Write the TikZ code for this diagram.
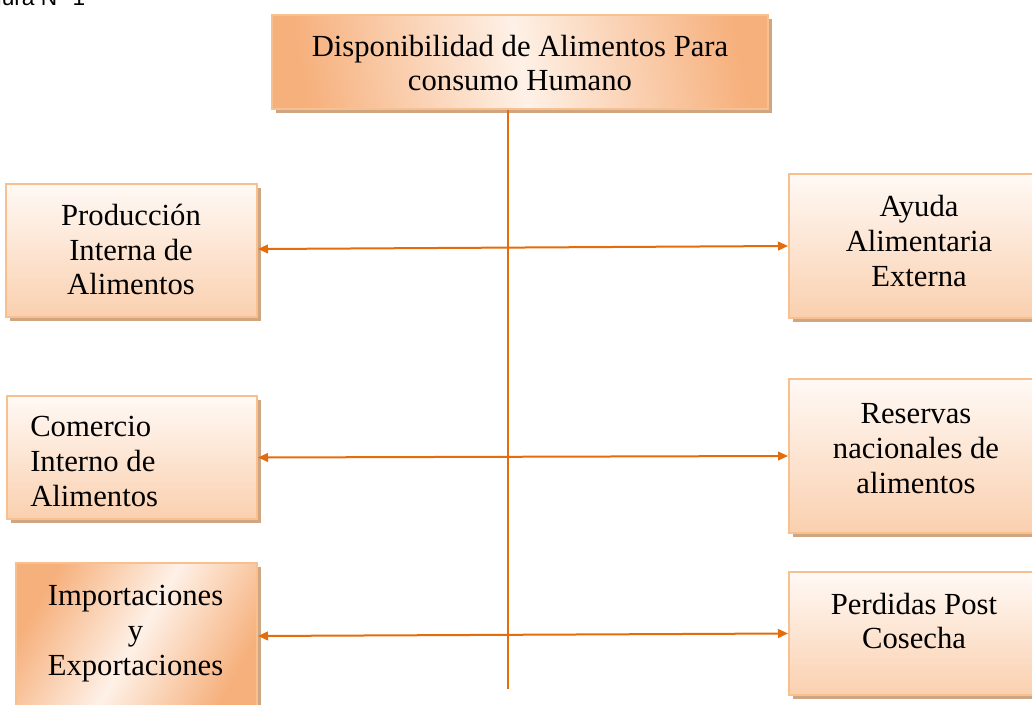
\documentclass[tikz,border=0pt]{standalone}
\usepackage{fontspec}
\setmainfont{Liberation Serif}
\newfontfamily\figfont{Liberation Sans}
\usetikzlibrary{arrows.meta,shadows}
\definecolor{linecol}{HTML}{E46C0A}
\definecolor{boxborder}{HTML}{F9C08F}
\definecolor{boxlight}{HTML}{FFF9F5}
\definecolor{boxmid}{HTML}{FAD0AF}
\definecolor{boxdark}{HTML}{F6B07C}
\definecolor{shadowcol}{HTML}{CFA582}
\tikzset{
  box/.style={draw=boxborder, line width=1.5pt, rectangle, inner sep=0pt,
    drop shadow={shadow xshift=3pt, shadow yshift=-3pt, fill=shadowcol, opacity=1}},
  vgrad/.style={top color=boxlight, bottom color=boxmid},
  dgrad/.style={left color=boxdark, right color=boxdark, middle color=boxlight!80!boxmid, shading angle=#1},
  txt/.style={font=\fontsize{23}{26}\selectfont, inner sep=0pt, align=center},
  arr/.style={draw=linecol, line width=1.5pt,
    {Triangle[length=7.5pt,width=6.5pt]}-{Triangle[length=7.5pt,width=6.5pt]}},
  vline/.style={draw=linecol, line width=1.3pt},
}
\begin{document}
\begin{tikzpicture}[x=0.75pt,y=-0.75pt]
\useasboundingbox (0,0) rectangle (1032,705);
\fill[white] (0,0) rectangle (1032,705);

% caption (cut at the top)
\node[font=\figfont\fontsize{17}{20}\selectfont, anchor=base west, inner sep=0pt] (fig) at (-30,6) {Figura N° 1};

% boxes
\node[box, dgrad=100,
  minimum width={496*0.75pt}, minimum height={94*0.75pt}] (top) at (520,62) {};
\node[box, vgrad, minimum width={251*0.75pt}, minimum height={133*0.75pt}] (l1) at (131.5,250.5) {};
\node[box, vgrad, minimum width={250*0.75pt}, minimum height={123*0.75pt}] (l2) at (132,457.5) {};
\node[box, dgrad=60,
  minimum width={241*0.75pt}, minimum height={152*0.75pt}] (l3) at (136.5,639) {};
\node[box, vgrad, minimum width={260*0.75pt}, minimum height={144*0.75pt}] (r1) at (919,246) {};
\node[box, vgrad, minimum width={260*0.75pt}, minimum height={154*0.75pt}] (r2) at (919,456) {};
\node[box, vgrad, minimum width={260*0.75pt}, minimum height={123*0.75pt}] (r3) at (919,633.5) {};

% texts
\node[txt] (ttop) at (520,63) {Disponibilidad de Alimentos Para\\consumo Humano};
\node[txt] (tl1) at (131,249.5) {Producción\\Interna de\\Alimentos};
\node[txt, align=left, anchor=west] (tl2) at (30,461.5) {Comercio\\Interno de\\Alimentos};
\node[txt] (tl3) at (135.5,633.5) {Importaciones\\y\\Exportaciones};
\node[txt] (tr1) at (919,241) {Ayuda\\Alimentaria\\Externa};
\node[txt] (tr2) at (916,448.5) {Reservas\\nacionales de\\alimentos};
\node[txt] (tr3) at (914,621) {Perdidas Post\\Cosecha};

% vertical line
\coordinate (vend) at (508,689);
\draw[vline] (top.south -| vend) -- (vend);

% arrows
\draw[arr] ([yshift=1.1pt]l1.east) -- (r1.west);
\draw[arr] (l2.east) -- (r2.west);
\draw[arr] ([yshift=2.25pt]l3.east) -- (r3.west);
\end{tikzpicture}
\end{document}
